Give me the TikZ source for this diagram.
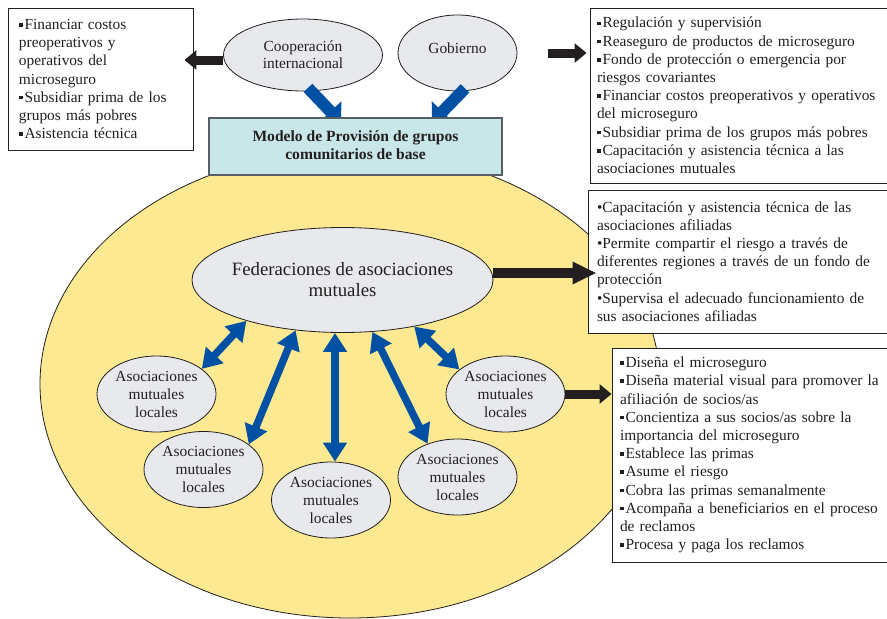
\documentclass[tikz,border=0pt]{standalone}
\usepackage{fontspec}
\setmainfont{Liberation Serif}
\usetikzlibrary{shapes.geometric,arrows.meta}
\definecolor{yel}{RGB}{253,233,146}
\definecolor{gry}{RGB}{232,233,236}
\definecolor{cyb}{RGB}{201,231,233}
\definecolor{blu}{RGB}{0,81,164}
\definecolor{blk}{RGB}{35,31,32}
\definecolor{bord}{RGB}{85,95,100}
\newcommand\sqb{\rule[2.8pt]{3.6pt}{3.6pt}\hspace{2pt}}
\newcommand\dotb{\textbullet}
\tikzset{
 txtbox/.style={draw=blk, line width=0.9pt, fill=white, align=left, inner ysep=0pt,
   font=\fontsize{15.4pt}{18.2pt}\selectfont, text=blk},
 ell/.style={ellipse, draw=blk, line width=0.8pt, fill=gry, inner sep=0pt, align=center, text=blk},
 barrow/.style={draw=blk, line width=9pt, -{Triangle[width=19pt,length=12pt]}},
 barrowlong/.style={draw=blk, line width=10pt, -{Triangle[width=21pt,length=24pt]}},
 bluarrow/.style={draw=blu, line width=12pt, -{Triangle[width=29pt,length=15pt]}},
 dblarrow/.style={draw=blu, line width=7.5pt, {Triangle[width=23pt,length=19pt]}-{Triangle[width=23pt,length=19pt]}},
}
\begin{document}
\begin{tikzpicture}[x=1pt,y=-1pt]
\useasboundingbox (0,0) rectangle (887,619);
\clip (0,0) rectangle (887,619);
\fill[white] (0,0) rectangle (887,619);
% big yellow ellipse
\draw[fill=yel, draw=blk, line width=0.8pt] (350,384) ellipse [x radius=310, y radius=234];
% text boxes
\node[txtbox, inner xsep=11pt, text width=163pt, minimum height=142pt] (tl) at (100.5,79)
 {\sqb Financiar costos\\ preoperativos y\\ operativos del\\ microseguro\\ \sqb Subsidiar prima de los\\ grupos más pobres\\ \sqb Asistencia técnica};
\node[txtbox, inner xsep=7pt, text width=310pt, minimum height=175pt] (tr) at (752,95.5)
 {\sqb Regulación y supervisión\\
  \sqb Reaseguro de productos de microseguro\\
  \sqb Fondo de protección o emergencia por\\
  riesgos covariantes\\
  \sqb Financiar costos preoperativos y operativos\\
  del microseguro\\
  \sqb Subsidiar prima de los grupos más pobres\\
  \sqb Capacitación y asistencia técnica a las\\
  asociaciones mutuales};
\node[txtbox, inner xsep=9pt, text width=310pt, minimum height=143pt] (mid) at (752,261.5)
 {\dotb Capacitación y asistencia técnica de las\\
  asociaciones afiliadas\\
  \dotb Permite compartir el riesgo a través de\\
  diferentes regiones a través de un fondo de\\
  protección\\
  \dotb Supervisa el adecuado funcionamiento de\\
  sus asociaciones afiliadas};
\node[txtbox, inner xsep=8pt, text width=300pt, minimum height=214pt] (bot) at (770,455)
 {\sqb Diseña el microseguro\\
  \sqb Diseña material visual para promover la\\
  afiliación de socios/as\\
  \sqb Concientiza a sus socios/as sobre la\\
  importancia del microseguro\\
  \sqb Establece las primas\\
  \sqb Asume el riesgo\\
  \sqb Cobra las primas semanalmente\\
  \sqb Acompaña a beneficiarios en el proceso\\
  de reclamos\\
  \sqb Procesa y paga los reclamos};
% ellipses
\node[ell, minimum width=159pt, minimum height=72pt, font=\fontsize{15.4pt}{17pt}\selectfont] (coop) at (303,55)
 {Cooperación\\internacional};
\node[ell, minimum width=119pt, minimum height=76pt, font=\fontsize{15.4pt}{17pt}\selectfont] (gob) at (457.5,53)
 {\raisebox{10pt}{Gobierno}};
\node[ell, inner xsep=-20pt, minimum width=301pt, minimum height=105pt, font=\fontsize{18.8pt}{21pt}\selectfont] (fed) at (342.5,280)
 {Federaciones de asociaciones\\mutuales};
\tikzset{loc/.style={ell, minimum width=119pt, minimum height=76pt, font=\fontsize{15.4pt}{18pt}\selectfont}}
\node[loc] (l1) at (156.5,394) {Asociaciones\\mutuales\\locales};
\node[loc] (l2) at (203.5,469.5) {Asociaciones\\mutuales\\locales};
\node[loc] (l3) at (331,500) {Asociaciones\\mutuales\\locales};
\node[loc] (l4) at (457.5,477) {Asociaciones\\mutuales\\locales};
\node[loc] (l5) at (505.5,394) {Asociaciones\\mutuales\\locales};
% blue arrows into the model box (box drawn on top)
\draw[bluarrow] ([xshift=5pt,yshift=3.5pt]coop.south) -- ([xshift=38pt,yshift=-31pt]coop.south);
\draw[bluarrow] ([xshift=7.5pt,yshift=3pt]gob.south) -- ([xshift=-25.5pt,yshift=-31pt]gob.south);
% model box
\node[draw=bord, line width=1.5pt, fill=cyb, minimum width=293pt, minimum height=57pt, align=center,
  text=blk, font=\bfseries\fontsize{15.6pt}{18.5pt}\selectfont] (model) at (355.5,146.5)
  {\raisebox{3pt}{\shortstack{Modelo de Provisión de grupos\\comunitarios de base}}};
% black arrows
\coordinate (cs) at ([yshift=-5pt]coop.west);
\draw[barrow, shorten >=-9pt] (cs) -- (cs -| tl.east);
\coordinate (gs) at ([xshift=31pt]gob.east);
\draw[barrow, shorten >=3pt] (gs) -- (gs -| tr.west);
\coordinate (fs) at ([yshift=7pt]fed.east);
\draw[barrowlong, shorten >=-9pt] (fs) -- (fs -| mid.west);
\draw[barrow] (l5.east) -- (l5.east -| bot.west);
% double arrows
\draw[dblarrow] (fed.203.5) -- (l1.29);
\draw[dblarrow] (fed.227.7) -- (l2.29.4);
\draw[dblarrow] ([xshift=-7.5pt]fed.south) -- ([xshift=4pt]l3.north);
\draw[dblarrow] (fed.300.7) -- (l4.132.5);
\draw[dblarrow] (fed.327.6) -- (l5.152.7);
\end{tikzpicture}
\end{document}
